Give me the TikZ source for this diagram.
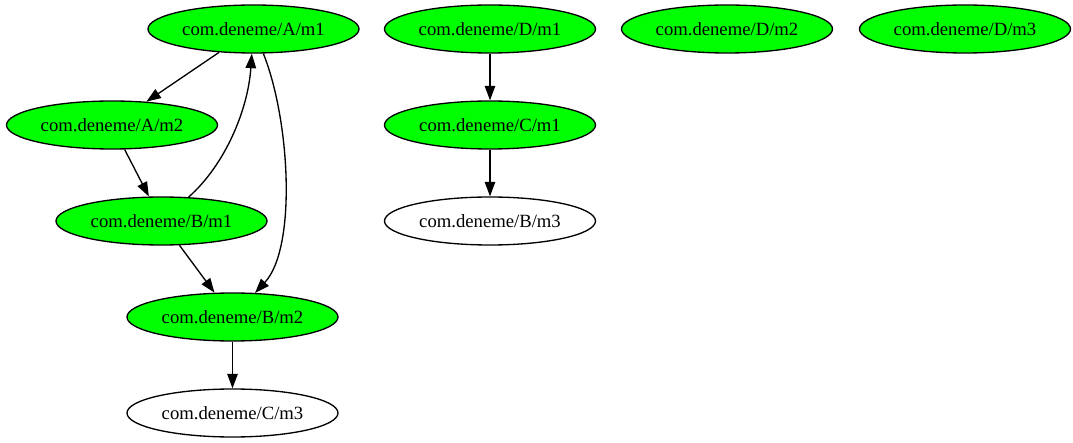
\documentclass[tikz,border=0pt]{standalone}
\usepackage{fontspec}
\setmainfont{Liberation Serif}
\usetikzlibrary{arrows.meta, positioning, shapes.geometric}
\definecolor{mygreen}{RGB}{0, 255, 0}
\tikzset{
    vertex/.style = {ellipse, draw, line width=1.33pt, minimum width=211pt, minimum height=48pt, inner sep=0pt, font=\fontsize{18.67}{20}\selectfont},
    called/.style = {vertex, fill=mygreen},
    edge/.style = {line width=1.33pt, -{Triangle[length=14.5pt, width=10.5pt]}}
}
\begin{document}
\begin{tikzpicture}[x=1pt, y=-1pt]
  \useasboundingbox (0,0) rectangle (1073,443);
  \node[called] (am1) at (253.5,29) {com.deneme/A/m1};
  \node[called] (dm1) at (490,29) {com.deneme/D/m1};
  \node[called] (dm2) at (727,29) {com.deneme/D/m2};
  \node[called] (dm3) at (965,29) {com.deneme/D/m3};
  \node[called] (am2) at (112,125) {com.deneme/A/m2};
  \node[called] (cm1) at (490,125) {com.deneme/C/m1};
  \node[called] (bm1) at (161.5,221) {com.deneme/B/m1};
  \node[vertex] (bm3) at (490,221) {com.deneme/B/m3};
  \node[called] (bm2) at (232.5,317) {com.deneme/B/m2};
  \node[vertex] (cm3) at (232.5,413) {com.deneme/C/m3};

  \draw[edge] (am1) -- (am2);
  \draw[edge] (am2) -- (bm1);
  \draw[edge] (bm1) .. controls (225,165) and (248,110) .. (am1);
  \draw[edge] (am1) .. controls (290,120) and (297,248) .. (bm2);
  \draw[edge] (bm1) -- (bm2);
  \draw[edge] (bm2) -- (cm3);
  \draw[edge] (dm1) -- (cm1);
  \draw[edge] (cm1) -- (bm3);
\end{tikzpicture}
\end{document}
